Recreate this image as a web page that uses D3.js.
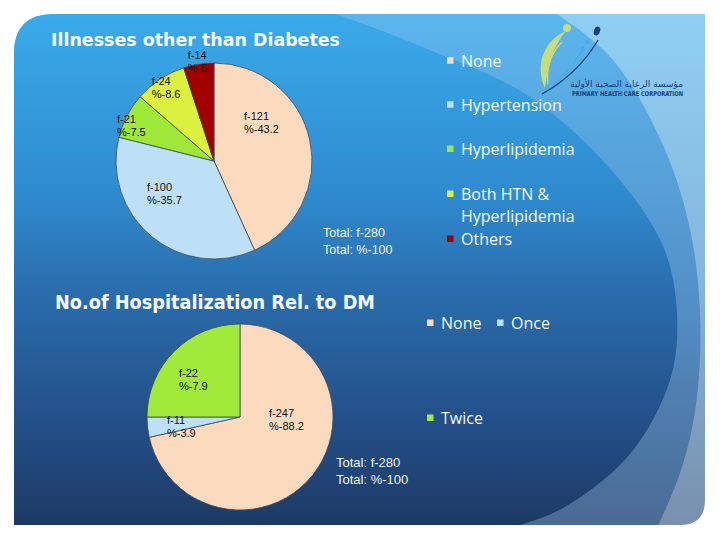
<!DOCTYPE html>
<html><head><meta charset="utf-8">
<script src="https://cdn.jsdelivr.net/npm/d3@7"></script>
<style>html,body{margin:0;padding:0;background:#fff;} svg{display:block;}</style>
</head><body>
<svg id="chart" width="720" height="540"></svg>
<script>
// ---------- data ----------
const illnessTitle = "Illnesses other than Diabetes";
const illnessCategories = ["None", "Hypertension", "Hyperlipidemia", "Both HTN & Hyperlipidemia", "Others"];
const illnessLegendLines = [["None"], ["Hypertension"], ["Hyperlipidemia"], ["Both HTN &", "Hyperlipidemia"], ["Others"]];
const illnessFreq = [121, 100, 21, 24, 14];
const illnessPct = [43.2, 35.7, 7.5, 8.6, 5];
const illnessColors = ["#fcdabd", "#bee0f7", "#9fe83a", "#dbf03f", "#a20000"];

const hospTitle = "No.of Hospitalization Rel. to DM";
const hospCategories = ["None", "Once", "Twice"];
const hospFreq = [247, 11, 22];
const hospPct = [88.2, 3.9, 7.9];
// slice sizes as actually drawn in the picture (%), they differ from the printed labels
const hospDrawnShare = [71.5, 3.5, 25];
const hospColors = ["#fcdabd", "#bee0f7", "#a0ea3a"];

const totalFreq = 280;
const totalPct = 100;

// ---------- layout ----------
const svg = d3.select("#chart");
const defs = svg.append("defs");

const slidePath = "M14,54 Q14,14 54,14 L705,14 L705,500 Q705,525 680,525 L14,525 Z";
defs.append("clipPath").attr("id", "slideClip").append("path").attr("d", slidePath);

function grad(id, stops) {
  const g = defs.append("linearGradient").attr("id", id)
    .attr("gradientUnits", "userSpaceOnUse").attr("x1", 0).attr("y1", 14).attr("x2", 0).attr("y2", 525);
  stops.forEach(s => g.append("stop").attr("offset", s[0]).attr("stop-color", s[1]));
}
grad("gLight", [[0, "#8fcff3"], [0.5, "#86b6dc"], [1, "#7890ad"]]);
grad("gBand", [[0, "#5bb6ee"], [0.5, "#5494cc"], [1, "#4b6a94"]]);
grad("gMain", [[0, "#3aaaea"], [0.35, "#2f8bcf"], [0.55, "#2a6cab"], [0.8, "#234f88"], [1, "#1d3a66"]]);

const bg = svg.append("g").attr("clip-path", "url(#slideClip)");
bg.append("rect").attr("x", 0).attr("y", 0).attr("width", 720).attr("height", 540).attr("fill", "url(#gLight)");
const curve = d3.line().curve(d3.curveCatmullRom.alpha(0.5));
const bandPts = [[540, 4], [557, 14], [613, 60], [663, 145], [690, 229], [700, 313], [697, 397], [683, 464], [657, 528], [648, 545]];
bg.append("path").attr("fill", "url(#gBand)").attr("d", curve(bandPts) + "L0,545 L0,0 Z");
const mainPts = [[300, 4], [335, 14], [430, 50], [530, 97], [613, 172], [663, 246], [677, 313], [670, 380], [630, 454], [563, 508], [500, 532], [470, 545]];
bg.append("path").attr("fill", "url(#gMain)").attr("d", curve(mainPts) + "L0,545 L0,0 Z");

// ---------- logo (decoration) ----------
const logo = svg.append("g");
logo.append("path").attr("d", "M545,88 C534,64 545,40 566,31 C553,46 548,66 545,88 Z").attr("fill", "#c8dc78");
logo.append("path").attr("d", "M548,84 C546,66 552,52 562,42").attr("fill", "none").attr("stroke", "#c8dc78").attr("stroke-width", 1.2);
logo.append("circle").attr("cx", 567).attr("cy", 28).attr("r", 4).attr("fill", "#c8dc78");
logo.append("path").attr("d", "M542,94 Q578,74 598,40").attr("fill", "none").attr("stroke", "#1b3f7a").attr("stroke-width", 1.4);
logo.append("path").attr("d", "M552,86 Q572,70 586,44").attr("fill", "none").attr("stroke", "#3db0e8").attr("stroke-width", 1);
logo.append("path").attr("d", "M556,84 Q572,68 582,50").attr("fill", "none").attr("stroke", "#3db0e8").attr("stroke-width", 0.8);
logo.append("ellipse").attr("cx", 597).attr("cy", 31).attr("rx", 3).attr("ry", 4.6).attr("transform", "rotate(20,597,31)").attr("fill", "#1b3f7a");
logo.append("circle").attr("cx", 587).attr("cy", 42).attr("r", 2.2).attr("fill", "#3db0e8");
logo.append("circle").attr("cx", 583).attr("cy", 49).attr("r", 2.5).attr("fill", "#3db0e8");
logo.append("text").attr("x", 683).attr("y", 87).attr("text-anchor", "end")
  .attr("font-family", "DejaVu Sans").attr("font-size", 9).attr("fill", "#17407a")
  .text("مؤسسة الرعاية الصحية الأولية");
logo.append("text").attr("x", 572).attr("y", 96).attr("textLength", 111).attr("lengthAdjust", "spacingAndGlyphs")
  .attr("font-family", "DejaVu Sans Condensed").attr("font-weight", "bold").attr("font-size", 6.5).attr("fill", "#17407a")
  .text("PRIMARY  HEALTH CARE CORPORATION");

// ---------- titles ----------
function title(txt, x, y, size, len) {
  svg.append("text").attr("x", x).attr("y", y).attr("font-family", "DejaVu Sans Condensed")
    .attr("font-weight", "bold").attr("font-size", size).attr("fill", "#f3f9fd")
    .attr("textLength", len).attr("lengthAdjust", "spacingAndGlyphs").text(txt);
}
title(illnessTitle, 51, 46, 18, 289);
title(hospTitle, 55, 309, 19.5, 320);

// ---------- pies ----------
function drawPie(opts) {
  const g = svg.append("g").attr("transform", `translate(${opts.cx},${opts.cy})`);
  const pie = d3.pie().sort(null).value(d => d);
  const arcs = pie(opts.values);
  const arc = d3.arc().innerRadius(0).outerRadius(opts.r);
  g.selectAll("path.slice").data(arcs).join("path").attr("class", "slice")
    .attr("d", arc).attr("fill", (d, i) => opts.colors[i])
    .attr("stroke", "#3a4a5c").attr("stroke-width", 0.8).attr("stroke-linejoin", "round");
  const lbl = g.selectAll("text.lbl").data(arcs).join("text").attr("class", "lbl")
    .attr("font-family", "Liberation Sans, Arial, sans-serif").attr("font-size", 11).attr("fill", "#111");
  lbl.each(function (d, i) {
    const p = opts.labelPos[i];
    const t = d3.select(this);
    t.append("tspan").attr("x", p[0] * opts.r).attr("y", p[1] * opts.r).text("f-" + opts.freq[i]);
    t.append("tspan").attr("x", p[0] * opts.r).attr("y", p[1] * opts.r + 13.3).text("%-" + opts.pct[i]);
  });
  const tt = svg.append("text").attr("font-family", "Liberation Sans, Arial, sans-serif")
    .attr("font-size", opts.totalSize).attr("fill", "#eef4fa");
  tt.append("tspan").attr("x", opts.totalX).attr("y", opts.totalY).text("Total: f-" + totalFreq);
  tt.append("tspan").attr("x", opts.totalX).attr("y", opts.totalY + 16.5).text("Total: %-" + totalPct);
}

drawPie({
  cx: 214, cy: 161, r: 98, values: illnessPct, colors: illnessColors,
  freq: illnessFreq, pct: illnessPct,
  labelPos: [[0.306, -0.418], [-0.684, 0.303], [-0.99, -0.391], [-0.636, -0.776], [-0.268, -1.041]],
  totalX: 323, totalY: 237, totalSize: 12.5
});
drawPie({
  cx: 240, cy: 417, r: 93, values: hospDrawnShare, colors: hospColors,
  freq: hospFreq, pct: hospPct,
  labelPos: [[0.312, 0], [-0.785, 0.075], [-0.656, -0.43]],
  totalX: 336, totalY: 467, totalSize: 13
});

// ---------- legends ----------
function legend(items, colors) {
  items.forEach((it, i) => {
    svg.append("rect").attr("x", it.x).attr("y", it.y - 9.5).attr("width", 6.5).attr("height", 6.5)
      .attr("fill", colors[i]);
    const t = svg.append("text").attr("font-family", "Open Sans").attr("font-size", 16).attr("fill", "#f4f8fc");
    it.lines.forEach((ln, j) => t.append("tspan").attr("x", it.x + 14).attr("y", it.y + j * 21.7).text(ln));
  });
}
const legY1 = [66.7, 110.7, 155, 200, 245];
legend(illnessLegendLines.map((l, i) => ({x: 447, y: legY1[i], lines: l})), illnessColors);
const legPos2 = [[427, 329], [497, 329], [427, 424]];
legend(hospCategories.map((c, i) => ({x: legPos2[i][0], y: legPos2[i][1], lines: [c]})), hospColors);
</script>
</body></html>
